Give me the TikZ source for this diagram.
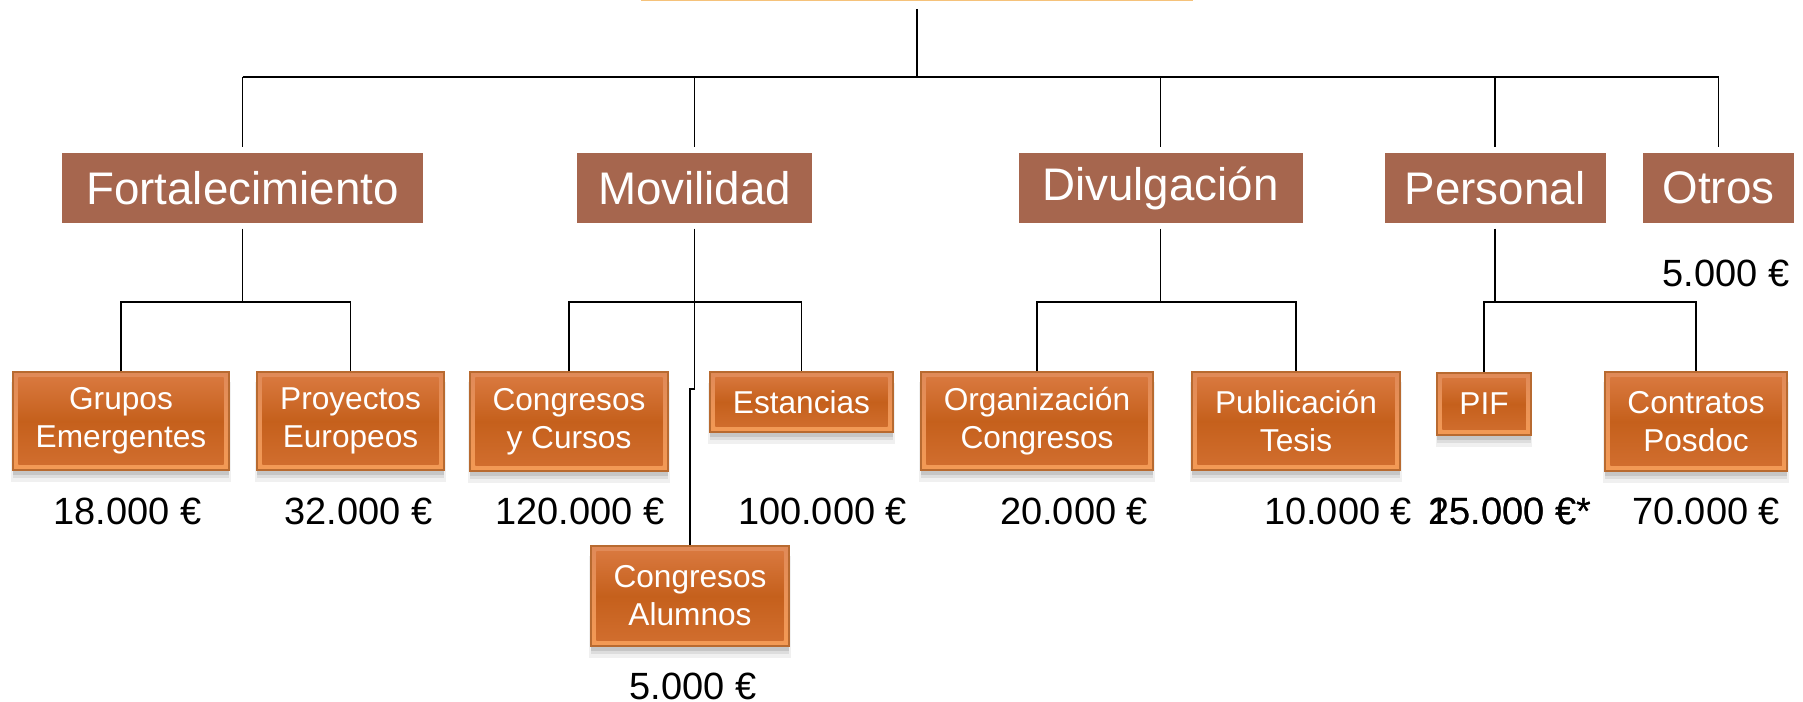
\documentclass[tikz,border=0pt]{standalone}
\usepackage{fontspec}
\setmainfont{Liberation Sans}
\usepackage{xcolor}
\usepackage{tikz}
\usetikzlibrary{shadows}
\definecolor{catfill}{HTML}{A6664E}
\definecolor{headline}{HTML}{F5C27A}
\definecolor{boxline}{HTML}{B86A30}
\definecolor{bevtop}{HTML}{E08A58}
\definecolor{bevbot}{HTML}{F39A55}
\definecolor{inntop}{HTML}{DB7B42}
\definecolor{innmid}{HTML}{C5601C}
\definecolor{innbot}{HTML}{D26F30}
\tikzset{
  head/.style    = { rectangle, draw=headline, line width=1pt, inner sep=0pt },
  area/.style    = { rectangle, fill=catfill, text=white, inner sep=0pt,
                     font=\fontsize{13}{15.6}\selectfont },
  task/.style    = { rectangle, draw=boxline, line width=0.4pt, inner sep=0pt,
                     top color=bevtop, bottom color=bevbot, text=white, align=center,
                     font=\fontsize{9}{10.8}\selectfont,
                     drop shadow={shadow xshift=0pt, shadow yshift=-3.2pt, shadow scale=1.02, opacity=0.06, fill=black},
                     drop shadow={shadow xshift=0pt, shadow yshift=-2.4pt, opacity=0.08, fill=black},
                     drop shadow={shadow xshift=0pt, shadow yshift=-1.5pt, opacity=0.1, fill=black},
                     path picture={\shade[top color=inntop, bottom color=innbot, middle color=innmid]
                       ([shift={(1.5pt,-1.5pt)}]path picture bounding box.north west) rectangle
                       ([shift={(-1.5pt,1.5pt)}]path picture bounding box.south east);} },
  cost/.style    = { inner sep=0pt, font=\fontsize{10.8}{13}\selectfont },
  connect/.style = { line width=0.5pt, black }
}

\begin{document}
\begin{tikzpicture}[x=0.1mm,y=-0.1mm]
\useasboundingbox (0,0) rectangle (1803,702);

\node[head, minimum width=54.8mm, minimum height=8mm, anchor=south] (root) at (917,1) {};

\node[area, minimum width=36.1mm, minimum height=7mm] (fort) at (242.5,188) {Fortalecimiento};
\node[area, minimum width=23.5mm, minimum height=7mm] (movil) at (694.5,188) {Movilidad};
\node[area, minimum width=28.4mm, minimum height=7mm] (divul) at (1160.5,188) {Divulgación};
\node[area, minimum width=22.1mm, minimum height=7mm] (pers) at (1495,188) {Personal};
\node[area, minimum width=15.1mm, minimum height=7mm] (otros) at (1718.5,188) {Otros};

\node[task, minimum width=21.6mm, minimum height=9.8mm] (grupos) at (121,421) {Grupos\\Emergentes};
\node[task, minimum width=18.7mm, minimum height=9.8mm] (proyectos) at (350.5,421) {Proyectos\\Europeos};
\node[task, minimum width=19.8mm, minimum height=9.9mm] (cursos) at (569,421.5) {Congresos\\y Cursos};
\node[task, minimum width=18.3mm, minimum height=6mm] (estancias) at (801.5,402) {Estancias};
\node[task, minimum width=19.8mm, minimum height=10mm] (alumnos) at (690,596) {Congresos\\Alumnos};
\node[task, minimum width=23.2mm, minimum height=9.8mm] (organiz) at (1037,421) {Organización\\Congresos};
\node[task, minimum width=20.8mm, minimum height=9.8mm] (publica) at (1296,421) {Publicación\\Tesis};
\node[task, minimum width=9.4mm, minimum height=6.2mm] (pif) at (1484,404) {PIF};
\node[task, minimum width=18.2mm, minimum height=9.9mm] (contratos) at (1696,421.5) {Contratos\\Posdoc};

\node[cost] (cGrupos) at (127.5,511) {18.000 €};
\node[cost] (cProyectos) at (358.5,511) {32.000 €};
\node[cost] (cCursos) at (580,511) {120.000 €};
\node[cost] (cEstancias) at (822.5,511) {100.000 €};
\node[cost] (cAlumnos) at (693,686) {5.000 €};
\node[cost] (cOrganiz) at (1074,511) {20.000 €};
\node[cost] (cPublica) at (1338,511) {10.000 €};
\node[cost] (cPifA) at (1510,511) {15.000 €*};
\node[cost] (cPifB) at (1510,511) {25.000 €*};
\node[cost] (cContratos) at (1706,511) {70.000 €};
\node[cost] (cOtros) at (1726,273.5) {5.000 €};

\coordinate (bus) at (0,77);
\coordinate (lowbus) at (0,302);
\coordinate (jog) at (694.5,389);

\draw[connect, shorten <=0.8mm] (root.south) -- (root.south |- bus);
\draw[connect] (fort.north |- bus) -- (otros.north |- bus);
\draw[connect, shorten >=0.5mm] (fort.north |- bus) -- (fort.north);
\draw[connect, shorten >=0.5mm] (movil.north |- bus) -- (movil.north);
\draw[connect, shorten >=0.5mm] (divul.north |- bus) -- (divul.north);
\draw[connect, shorten >=0.5mm] (pers.north |- bus) -- (pers.north);
\draw[connect, shorten >=0.5mm] (otros.north |- bus) -- (otros.north);

\draw[connect, shorten <=0.5mm] (fort.south) -- (fort.south |- lowbus);
\draw[connect] (grupos.north) -- (grupos.north |- lowbus) -- (proyectos.north |- lowbus) -- (proyectos.north);

\draw[connect, shorten <=0.5mm] (movil.south) -- (jog) -| (alumnos.north);
\draw[connect] (cursos.north) -- (cursos.north |- lowbus) -- (estancias.north |- lowbus) -- (estancias.north);

\draw[connect, shorten <=0.5mm] (divul.south) -- (divul.south |- lowbus);
\draw[connect] (organiz.north) -- (organiz.north |- lowbus) -- (publica.north |- lowbus) -- (publica.north);

\draw[connect, shorten <=0.5mm] (pers.south) -- (pers.south |- lowbus) -| (pif.north);
\draw[connect] (pers.south |- lowbus) -| (contratos.north);
\end{tikzpicture}
\end{document}
